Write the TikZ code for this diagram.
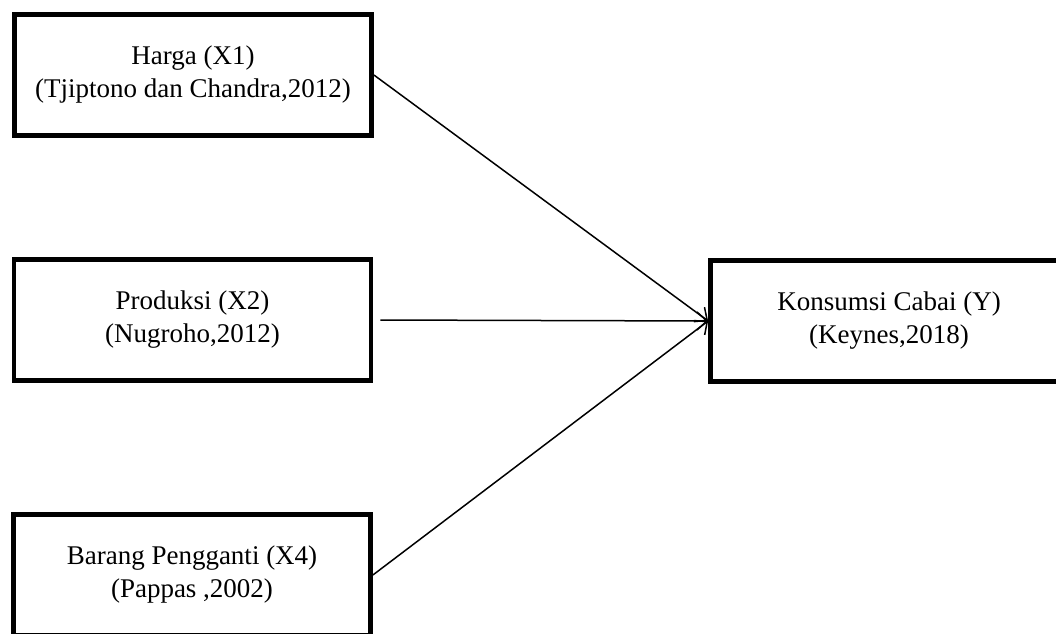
\documentclass[tikz,border=0pt]{standalone}
\usepackage{fontspec}
\setmainfont{Liberation Serif}
\usetikzlibrary{positioning, arrows.meta}

\begin{document}
\begin{tikzpicture}[
    x=0.5pt, y=0.5pt,
    box/.style={
        rectangle,
        draw,
        line width=2.4pt,
        minimum width=178.5pt,
        minimum height=60.75pt,
        align=center,
        font=\fontsize{13.5}{16.5}\selectfont
    },
    edge/.style={line width=0.75pt, -{Straight Barb[length=5pt, width=9pt]}}
]

\useasboundingbox (0,0) rectangle (1056,633);

\node[box] (x1) at (193,558) {Harga (X1)\\(Tjiptono dan Chandra,2012)};
\node[box] (x2) at (192.5,313) {Produksi (X2)\\(Nugroho,2012)};
\node[box] (x4) at (192,58) {Barang Pengganti (X4)\\(Pappas ,2002)};
\node[box] (y) at (889,312) {Konsumsi Cabai (Y)\\(Keynes,2018)};

\draw[edge] (x1.east) -- (y.west);
\draw[edge, shorten <=3.5pt] (x2.east) -- (y.west);
\draw[edge] (x4.east) -- (y.west);

\end{tikzpicture}
\end{document}
